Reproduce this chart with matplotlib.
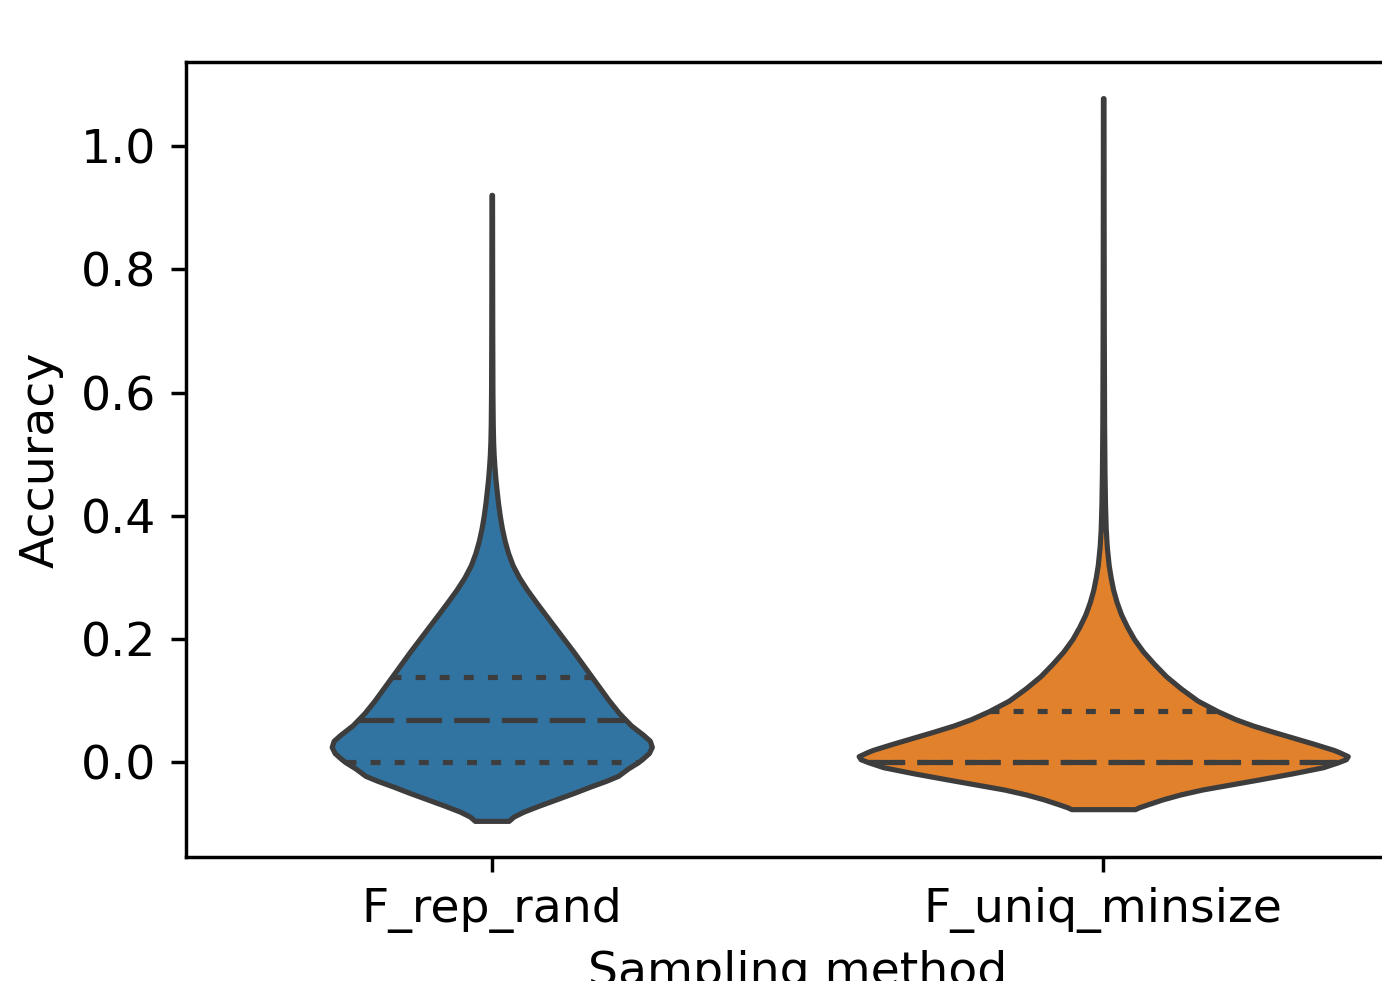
import numpy as np
import matplotlib
matplotlib.use("Agg")
import matplotlib.pyplot as plt

# ============================================================
# Data
# ============================================================

CATEGORIES = ["F_rep_rand", "F_uniq_minsize"]

# violin outlines: accuracy level and relative density (half-width) at that level
REP_RAND_Y = [-0.095, -0.088, -0.080, -0.070, -0.060, -0.050, -0.040, -0.030,
              -0.022, -0.010, 0.000, 0.005, 0.015, 0.025, 0.035, 0.045,
              0.060, 0.080, 0.100, 0.120, 0.140, 0.160, 0.180, 0.200, 0.220,
              0.240, 0.260, 0.280, 0.300, 0.320, 0.340, 0.360, 0.380, 0.400,
              0.420, 0.440, 0.460, 0.480, 0.500, 0.520, 0.550, 0.600, 0.700,
              0.800, 0.921]
REP_RAND_DENS = [0.17, 0.22, 0.32, 0.48, 0.65, 0.82, 0.98, 1.15,
                 1.27, 1.37, 1.47, 1.51, 1.58, 1.61, 1.59, 1.52,
                 1.40, 1.28, 1.18, 1.09, 1.00, 0.91, 0.82, 0.726, 0.632,
                 0.538, 0.445, 0.355, 0.275, 0.21, 0.164, 0.129, 0.102, 0.081,
                 0.064, 0.050, 0.037, 0.027, 0.019, 0.014, 0.010, 0.007, 0.005,
                 0.004, 0.003]

UNIQ_MINSIZE_Y = [-0.076, -0.073, -0.068, -0.060, -0.052, -0.044, -0.036, -0.028,
                  -0.018, -0.008, 0.000, 0.005, 0.010, 0.016, 0.020, 0.030,
                  0.040, 0.050, 0.060, 0.070, 0.083, 0.100, 0.120, 0.140, 0.160,
                  0.180, 0.200, 0.220, 0.240, 0.260, 0.280, 0.300, 0.320, 0.350,
                  0.380, 0.420, 0.470, 0.550, 0.700, 0.900, 1.078]
UNIQ_MINSIZE_DENS = [0.32, 0.36, 0.45, 0.60, 0.78, 1.00, 1.28, 1.56,
                     1.90, 2.21, 2.36, 2.44, 2.46, 2.38, 2.32, 2.12,
                     1.91, 1.70, 1.50, 1.33, 1.15, 0.95, 0.78, 0.63, 0.51,
                     0.40, 0.31, 0.24, 0.18, 0.135, 0.10, 0.075, 0.055, 0.036,
                     0.025, 0.018, 0.013, 0.009, 0.006, 0.004, 0.003]

# quartiles (Q1, median, Q3)
REP_RAND_QUART = [0.0, 0.069, 0.138]
UNIQ_MINSIZE_QUART = [0.0, 0.0, 0.083]

COLORS = ["#3274a1", "#e1812c"]
LINE_COLOR = "#3d3d3d"


# ============================================================
# Plot
# ============================================================

plt.rcParams["lines.scale_dashes"] = False
plt.rcParams["font.size"] = 11

fig = plt.figure(figsize=(1382 / 310, 981 / 310), dpi=310)
# the reference is cropped on the right, so the axes run past the figure edge
ax = fig.add_axes([0.1346, 0.1264, 0.8849, 0.8104])

profiles = [
    (REP_RAND_Y, REP_RAND_DENS, REP_RAND_QUART),
    (UNIQ_MINSIZE_Y, UNIQ_MINSIZE_DENS, UNIQ_MINSIZE_QUART),
]
max_dens = max(max(REP_RAND_DENS), max(UNIQ_MINSIZE_DENS))

dotted = (0, (2.3, 3.3))
dashed = (0, (8.3, 2.8))

for i, (ys, dens, quart) in enumerate(profiles):
    ys = np.asarray(ys)
    half = 0.4 * np.asarray(dens) / max_dens
    ax.fill_betweenx(ys, i - half, i + half, facecolor=COLORS[i],
                     edgecolor=LINE_COLOR, linewidth=1.2, zorder=2)
    for q, ls in zip(quart, [dotted, dashed, dotted]):
        w = 0.4 * np.interp(q, ys, dens) / max_dens
        ax.plot([i - w, i + w], [q, q], color=LINE_COLOR, linewidth=1.2,
                linestyle=ls, zorder=3)

ax.set_xlim(-0.5, 1.5)
ax.set_xticks(range(len(CATEGORIES)))
ax.set_xticklabels(CATEGORIES)
ax.set_xlabel("Sampling method")
ax.set_ylabel("Accuracy")

fig.savefig("out.png", dpi=310)
